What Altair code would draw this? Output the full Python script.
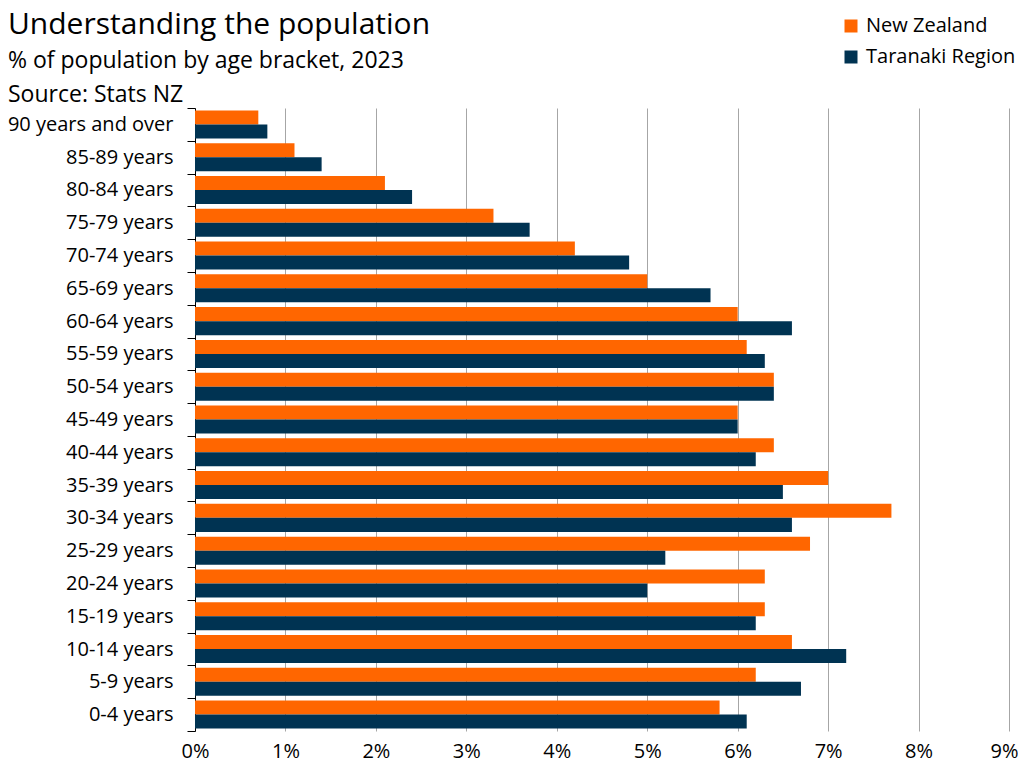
import altair as alt
import pandas as pd

ages = ["90 years and over", "85-89 years", "80-84 years", "75-79 years", "70-74 years",
        "65-69 years", "60-64 years", "55-59 years", "50-54 years", "45-49 years",
        "40-44 years", "35-39 years", "30-34 years", "25-29 years", "20-24 years",
        "15-19 years", "10-14 years", "5-9 years", "0-4 years"]
nz = [0.7, 1.1, 2.1, 3.3, 4.2, 5.0, 6.0, 6.1, 6.4, 6.0, 6.4, 7.0, 7.7, 6.8, 6.3, 6.3, 6.6, 6.2, 5.8]
taranaki = [0.8, 1.4, 2.4, 3.7, 4.8, 5.7, 6.6, 6.3, 6.4, 6.0, 6.2, 6.5, 6.6, 5.2, 5.0, 6.2, 7.2, 6.7, 6.1]
series = ["New Zealand", "Taranaki Region"]
colors = ["#FF6600", "#003352"]
x_ticks = [0, 1, 2, 3, 4, 5, 6, 7, 8, 9]

rows = []
for a, v1, v2 in zip(ages, nz, taranaki):
    rows.append({"age": a, "series": series[0], "value": v1})
    rows.append({"age": a, "series": series[1], "value": v2})
df = pd.DataFrame(rows)

FONT = "Open Sans"

chart = alt.Chart(df).mark_bar().encode(
    y=alt.Y("age:N", sort=ages,
            scale=alt.Scale(paddingInner=0, paddingOuter=0),
            axis=alt.Axis(title=None, tickBand="extent", labelFontSize=20, labelColor="#000000",
                          labelFont=FONT, domainColor="#000000", tickColor="#000000",
                          tickSize=8, labelPadding=14, grid=False)),
    yOffset=alt.YOffset("series:N", sort=series,
                        scale=alt.Scale(paddingInner=0, paddingOuter=0.17)),
    x=alt.X("value:Q", scale=alt.Scale(domain=[0, 9], nice=False),
            axis=alt.Axis(title=None, values=x_ticks, labelExpr="datum.value + '%'",
                          labelFontSize=20, labelColor="#000000", labelFont=FONT,
                          labelFlush=False,
                          labelOffset={"condition": {"test": "datum.value == 9", "value": -5}, "value": 0},
                          domain=False, ticks=False, grid=True, gridColor="#a6a6a6",
                          gridWidth=1, labelPadding=10)),
    color=alt.Color("series:N", sort=series,
                    scale=alt.Scale(domain=series, range=colors),
                    legend=alt.Legend(title=None, orient="none", legendX=646, legendY=-92,
                                      symbolType="square", symbolSize=169, symbolStrokeWidth=0,
                                      labelFontSize=20, labelFont=FONT, labelColor="#000000",
                                      rowPadding=11, symbolOffset=0, labelOffset=5)),
).properties(
    width=814,
    height=623,
    padding={"left": 187, "top": 100, "right": 9, "bottom": 40},
    autosize=alt.AutoSizeParams(type="none"),
    title=alt.Title(
        text="Understanding the population",
        subtitle=["% of population by age bracket, 2023", "Source: Stats NZ"],
        anchor="start", frame="group", dx=-187, offset=-91,
        fontSize=30, font=FONT, fontWeight="normal", color="#000000",
        subtitleFontSize=23, subtitleFont=FONT, subtitleColor="#000000",
        subtitleLineHeight=34, subtitlePadding=10,
    ),
).configure_view(stroke=None)

chart.save("out.html", embed_options={"renderer": "svg", "actions": False})
